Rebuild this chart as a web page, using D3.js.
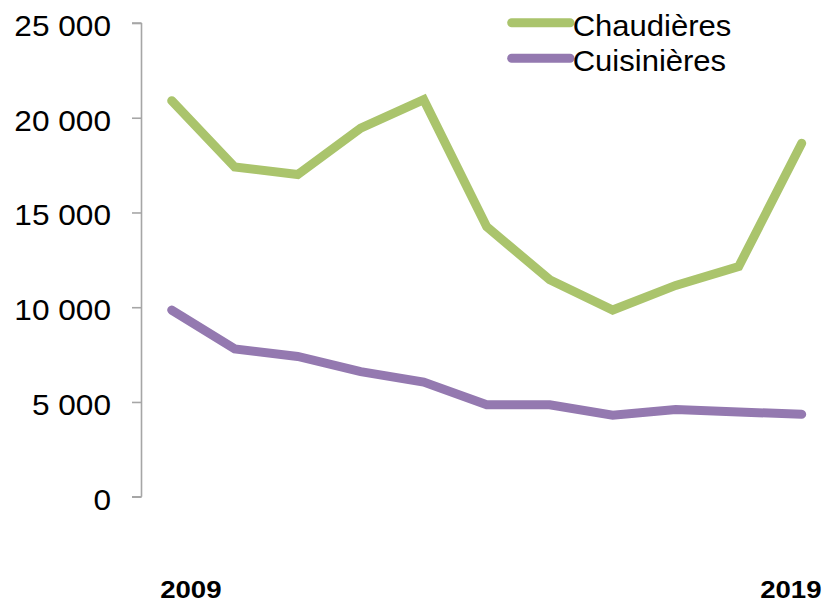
<!DOCTYPE html>
<html>
<head>
<meta charset="utf-8">
<script src="https://cdn.jsdelivr.net/npm/d3@7"></script>
<style>
  body { margin: 0; background: #fff; }
  svg { display: block; font-family: "Liberation Sans", Arial, sans-serif; }
</style>
</head>
<body>
<script>
const years = [2009, 2010, 2011, 2012, 2013, 2014, 2015, 2016, 2017, 2018, 2019];
const chaudieres = [20900, 17400, 17000, 19450, 20950, 14250, 11450, 9850, 11150, 12150, 18650];
const cuisinieres = [9850, 7800, 7400, 6600, 6050, 4850, 4850, 4300, 4600, 4470, 4350];
const yTicks = [0, 5000, 10000, 15000, 20000, 25000];
const xLabels = [2009, 2019];
const seriesNames = ["Chaudières", "Cuisinières"];
const colors = ["#aac46c", "#9479b0"];

const W = 825, H = 604;
const svg = d3.select("body").append("svg")
  .attr("width", W).attr("height", H);

const x = d3.scaleLinear().domain([2009, 2019]).range([171.7, 801.7]);
const y = d3.scaleLinear().domain([0, 25000]).range([496.7, 23]);
// category labels sit a little off the points
const xLab = d3.scaleLinear().domain([2009, 2019]).range([190.8, 790.8]);

const fmt = v => d3.format(",")(v).replace(/,/g, " ");

// y axis
const yAxis = svg.append("g")
  .attr("transform", "translate(141.5,0)")
  .call(d3.axisLeft(y).tickValues(yTicks).tickSize(9.5).tickPadding(0).tickFormat(""));
yAxis.select(".domain").attr("d", `M0,${y(25000)}V${y(0)}M0,${y(0)}H-9.5M0,${y(25000)}H-9.5`)
  .attr("stroke", "#a6a6a6").attr("stroke-width", 1.6);
yAxis.selectAll(".tick line").attr("stroke", "#a6a6a6").attr("stroke-width", 1.6);

svg.append("g").selectAll("text")
  .data(yTicks).enter().append("text")
  .attr("x", 0)
  .attr("y", 0)
  .attr("transform", d => `translate(111,${y(d) + 13}) scale(1.09,1)`)
  .attr("text-anchor", "end")
  .attr("font-size", 29)
  .attr("fill", "#000")
  .text(fmt);

// x labels
svg.append("g").selectAll("text")
  .data(xLabels).enter().append("text")
  .attr("transform", d => `translate(${xLab(d)},598.3) scale(1.2,1)`)
  .attr("text-anchor", "middle")
  .attr("font-size", 23)
  .attr("font-weight", "bold")
  .attr("fill", "#000")
  .text(d => d);

// lines
const line = d3.line()
  .x((d, i) => x(years[i]))
  .y(d => y(d));

[chaudieres, cuisinieres].forEach((s, k) => {
  svg.append("path")
    .datum(s)
    .attr("d", line)
    .attr("fill", "none")
    .attr("stroke", colors[k])
    .attr("stroke-width", 9)
    .attr("stroke-linecap", "round")
    .attr("stroke-linejoin", "miter");
});

// legend
const legend = svg.append("g");
seriesNames.forEach((name, k) => {
  const ly = 22.7 + k * 35.6;
  legend.append("line")
    .attr("x1", 511.7).attr("x2", 570)
    .attr("y1", ly).attr("y2", ly)
    .attr("stroke", colors[k])
    .attr("stroke-width", 9)
    .attr("stroke-linecap", "round");
  legend.append("text")
    .attr("transform", `translate(572.7,${ly + 13}) scale(1.07,1)`)
    .attr("font-size", 29)
    .attr("fill", "#000")
    .text(name);
});
</script>
</body>
</html>
